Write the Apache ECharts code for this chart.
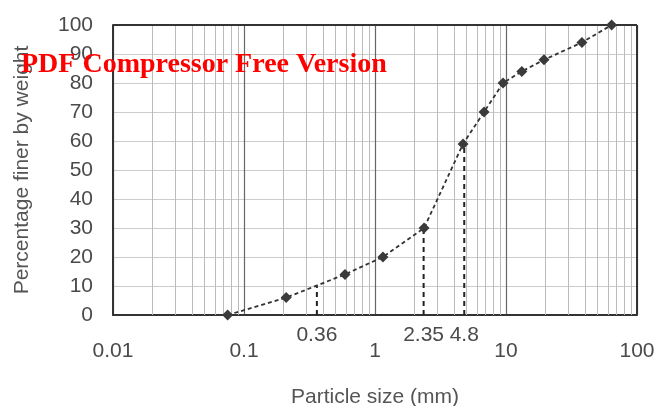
<!DOCTYPE html>
<html>
<head>
<meta charset="utf-8">
<title>Particle size distribution</title>
<script src="https://cdn.jsdelivr.net/npm/echarts@6/dist/echarts.min.js"></script>
<style>
  html, body { margin: 0; padding: 0; background: #fff; }
  #chart { width: 658px; height: 406px; }
</style>
</head>
<body>
<div id="chart"></div>
<script>
// grading curve
const sizes = [0.075, 0.21, 0.59, 1.15, 2.37, 4.7, 6.8, 9.5, 13.2, 19.5, 38, 64]
const finer = [0, 6, 14, 20, 30, 59, 70, 80, 84, 88, 94, 100]

// D10 / D30 / D60 markers
const dSizes = [0.36, 2.35, 4.8]
const dPercents = [10, 30, 60]
const dLabels = ['0.36', '2.35', '4.8']

// axis ticks
const xTicks = ['0.01', '0.1', '1', '10', '100']
const yTicks = [0, 10, 20, 30, 40, 50, 60, 70, 80, 90, 100]

// minor log grid lines (2..9 inside each decade)
const decades = [0.01, 0.1, 1, 10]
const minorSteps = [2, 3, 4, 5, 6, 7, 8, 9]
const minorLines = []
decades.forEach(d => minorSteps.forEach(k => minorLines.push({ xAxis: +(d * k).toPrecision(3) })))

const chart = echarts.init(document.getElementById('chart'))

const labelFont = { color: '#4a4a4a', fontSize: 21, fontFamily: 'Liberation Sans' }
const nameFont = { color: '#555', fontSize: 21, fontFamily: 'Liberation Sans' }

// dashed drop lines from the curve to the axis
const dropSeries = dSizes.map((s, i) => ({
  type: 'line',
  data: [[s, 0], [s, dPercents[i]]],
  symbol: 'none',
  lineStyle: { color: '#222', width: 2, type: [5, 4] },
  z: 3,
  markPoint: {
    symbol: 'circle',
    symbolSize: 0,
    data: [{ coord: [s, 0], value: dLabels[i] }],
    label: {
      show: true,
      position: 'bottom',
      distance: 10,
      formatter: dLabels[i],
      ...labelFont
    }
  }
}))

chart.setOption({
  animation: false,
  backgroundColor: '#fff',
  grid: { left: 113, right: 21, top: 25, bottom: 91, outerBoundsMode: 'none' },
  graphic: [
    {
      type: 'text',
      left: 21,
      top: 51,
      z: 100,
      style: {
        text: 'PDF Compressor Free Version',
        fill: '#ff0000',
        font: 'bold 28px "Liberation Serif"'
      }
    }
  ],
  xAxis: {
    type: 'log',
    logBase: 10,
    min: 0.01,
    max: 100,
    name: 'Particle size (mm)',
    nameLocation: 'middle',
    nameGap: 72,
    nameTextStyle: nameFont,
    axisLine: { show: true, lineStyle: { color: '#333', width: 2 } },
    axisTick: { show: false },
    axisLabel: {
      margin: 26,
      ...labelFont,
      formatter: v => xTicks.find(t => Math.abs(+t - v) < v * 1e-6) || ''
    },
    splitLine: { show: true, lineStyle: { color: '#666', width: 1.2 } }
  },
  yAxis: {
    type: 'value',
    min: 0,
    max: 100,
    interval: 10,
    name: 'Percentage finer by weight',
    nameLocation: 'middle',
    nameGap: 80,
    nameTextStyle: nameFont,
    axisLine: { show: true, lineStyle: { color: '#333', width: 2 } },
    axisTick: { show: false },
    axisLabel: {
      margin: 20,
      ...labelFont,
      formatter: v => (yTicks.includes(v) ? String(v) : '')
    },
    splitLine: { show: true, lineStyle: { color: '#ccc', width: 1 } }
  },
  series: [
    {
      type: 'line',
      data: sizes.map((s, i) => [s, finer[i]]),
      symbol: 'diamond',
      symbolSize: 11,
      itemStyle: { color: '#3a3a3a' },
      lineStyle: { color: '#333', width: 1.8, type: [4, 3] },
      z: 5,
      markLine: {
        silent: true,
        symbol: 'none',
        label: { show: false },
        lineStyle: { color: '#bbb', width: 1, type: 'solid' },
        data: minorLines
      }
    },
    // frame on the top and right sides
    {
      type: 'line',
      data: [],
      markLine: {
        silent: true,
        symbol: 'none',
        label: { show: false },
        lineStyle: { color: '#333', width: 2, type: 'solid' },
        data: [{ yAxis: 100 }, { xAxis: 100 }]
      }
    },
    ...dropSeries
  ]
})
</script>
</body>
</html>
